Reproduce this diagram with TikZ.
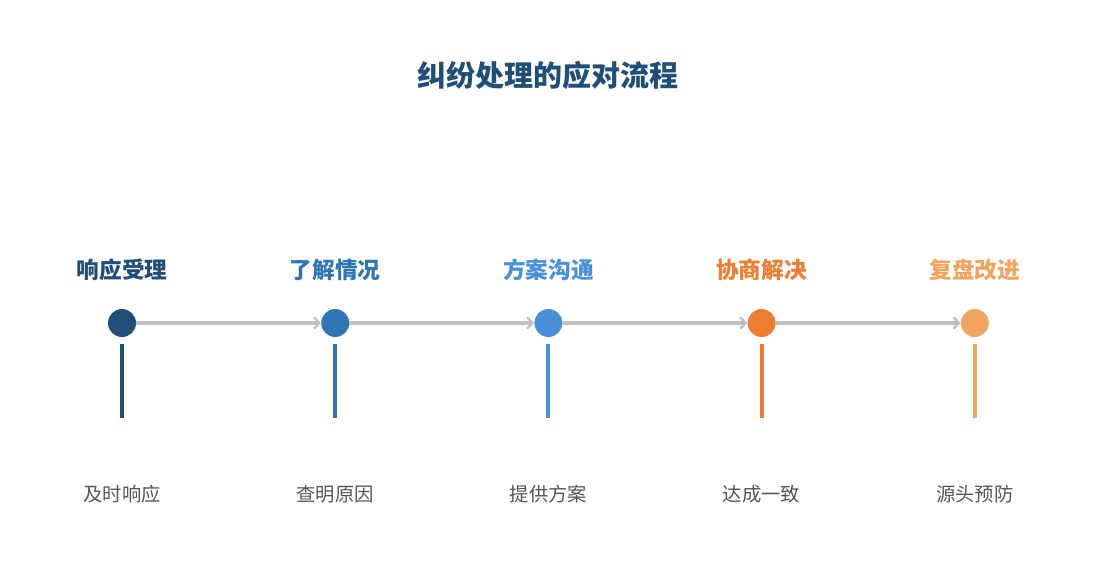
\documentclass[tikz,border=0pt]{standalone}
\usepackage{fontspec}
\newfontfamily\cjk{Noto Sans CJK SC}
\usepackage{tikz}
\usetikzlibrary{positioning}
\usetikzlibrary{arrows.meta}

\definecolor{navy}{HTML}{1F4E79}
\definecolor{midblue}{HTML}{2E75B6}
\definecolor{skyblue}{HTML}{4A90D9}
\definecolor{deeporange}{HTML}{ED7D31}
\definecolor{softorange}{HTML}{F0A460}
\definecolor{linkgray}{HTML}{C0C0C0}
\definecolor{notegray}{HTML}{555555}

\tikzset{
  dot/.style={circle, fill=#1, minimum size=21pt, inner sep=0pt},
  stage/.style={text=#1, font=\cjk\bfseries\fontsize{17pt}{19pt}\selectfont, anchor=base},
  note/.style={text=notegray, font=\cjk\fontsize{14.5pt}{17pt}\selectfont, anchor=base},
  link/.style={draw=linkgray, line width=2.7pt, -{Straight Barb[length=4pt,width=8.5pt,line width=1.8pt]}},
  stem/.style={draw=#1, line width=3pt}
}

\begin{document}
\begin{tikzpicture}[x=0.75pt, y=-0.75pt]
                \useasboundingbox (0,0) rectangle (1095,585);
                \node(title) at (548,75) [text=navy, font=\cjk\bfseries\fontsize{21.75pt}{24pt}\selectfont] {纠纷处理的应对流程};

                \node(c1) at (122,323) [dot=navy] {};
                \node(c2) [right=138.5pt of c1, dot=midblue] {};
                \node(c3) [right=138.5pt of c2, dot=skyblue] {};
                \node(c4) [right=138.5pt of c3, dot=deeporange] {};
                \node(c5) [right=138.5pt of c4, dot=softorange] {};

                \node(s1) [above=23pt of c1, stage=navy] {响应受理};
                \node(s2) [above=23pt of c2, stage=midblue] {了解情况};
                \node(s3) [above=23pt of c3, stage=skyblue] {方案沟通};
                \node(s4) [above=23pt of c4, stage=deeporange] {协商解决};
                \node(s5) [above=23pt of c5, stage=softorange] {复盘改进};

                \node(n1) [below=123pt of c1, note] {及时响应};
                \node(n2) [below=123pt of c2, note] {查明原因};
                \node(n3) [below=123pt of c3, note] {提供方案};
                \node(n4) [below=123pt of c4, note] {达成一致};
                \node(n5) [below=123pt of c5, note] {源头预防};

                \draw[link] (c1.east) -- (c2.west);
                \draw[link] (c2.east) -- (c3.west);
                \draw[link] (c3.east) -- (c4.west);
                \draw[link] (c4.east) -- (c5.west);

                \draw[stem=navy] ([yshift=-5.25pt]c1.south) -- ++(0,74);
                \draw[stem=midblue] ([yshift=-5.25pt]c2.south) -- ++(0,74);
                \draw[stem=skyblue] ([yshift=-5.25pt]c3.south) -- ++(0,74);
                \draw[stem=deeporange] ([yshift=-5.25pt]c4.south) -- ++(0,74);
                \draw[stem=softorange] ([yshift=-5.25pt]c5.south) -- ++(0,74);
\end{tikzpicture}
\end{document}
